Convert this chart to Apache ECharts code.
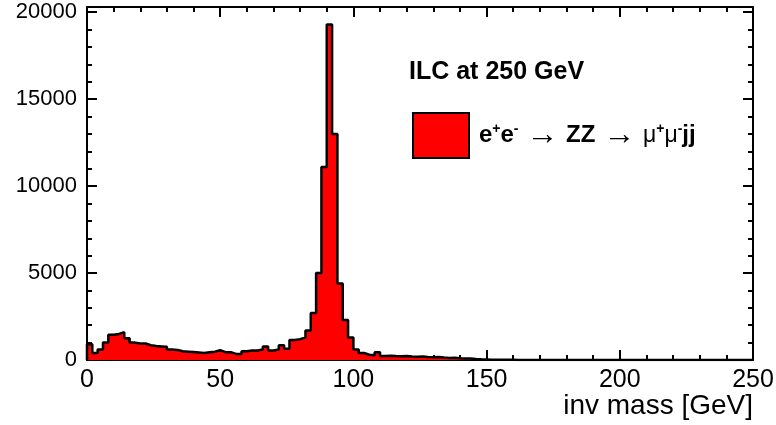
<!DOCTYPE html>
<html><head><meta charset="utf-8">
<script src="https://cdn.jsdelivr.net/npm/echarts@6/dist/echarts.min.js"></script>
<style>html,body{margin:0;padding:0;background:#fff}#c{width:776px;height:425px}</style>
</head><body><div id="c"></div>
<script>
// Histogram: 125 bins of 2 GeV from 0 to 250 GeV
const binLow = 0;
const binWidth = 2;
const counts = [
  900, 400, 600, 1000, 1450, 1500, 1600, 1250, 1000, 950,
  950, 850, 800, 780, 760, 600, 580, 500, 480, 460,
  430, 400, 450, 480, 560, 450, 450, 350, 350, 500,
  550, 550, 600, 770, 550, 600, 850, 650, 1150, 1200,
  1300, 1700, 2700, 5000, 11100, 19300, 13000, 4400, 2300, 1300,
  600, 400, 300, 280, 450, 230, 250, 230, 220, 230,
  200, 180, 200, 170, 160, 170, 140, 120, 130, 100,
  80, 90, 60, 40, 30, 20, 20, 10, 10, 10,
  0, 0, 0, 0, 0, 0, 0, 0, 0, 0,
  0, 0, 0, 0, 0, 0, 0, 0, 0, 0,
  0, 0, 0, 0, 0, 0, 0, 0, 0, 0,
  0, 0, 0, 0, 0, 0, 0, 0, 0, 0,
  0, 0, 0, 0, 0
];
const xTicks = [0, 50, 100, 150, 200, 250];
const yTicks = [0, 5000, 10000, 15000, 20000];
const seriesName = 'ZZ';
const titleText = 'ILC at 250 GeV';
const xTitle = 'inv mass [GeV]';

const stepData = [[binLow, 0]];
counts.forEach((c, i) => stepData.push([binLow + i * binWidth, c]));
const xEnd = binLow + counts.length * binWidth;
stepData.push([xEnd, counts[counts.length - 1]]);
stepData.push([xEnd, 0]);

const FONT = "'Liberation Sans', Arial, sans-serif";

const axisCommon = {
  axisLine: { show: true, onZero: false, lineStyle: { color: '#000', width: 2 } },
  axisTick: { show: true, inside: true, length: 10, lineStyle: { color: '#000', width: 2 } },
  minorTick: { show: true, splitNumber: 5, length: 5, lineStyle: { color: '#000', width: 2 } },
  splitLine: { show: false }
};

const chart = echarts.init(document.getElementById('c'), null, { renderer: 'canvas' });
chart.setOption({
  animation: false,
  backgroundColor: '#fff',
  grid: { left: 87, right: 23, top: 7, bottom: 65, containLabel: false, outerBoundsMode: 'none' },
  title: {
    text: titleText, left: 404, top: 55,
    textStyle: { fontFamily: FONT, fontWeight: 'bold', fontSize: 25, color: '#000' }
  },
  legend: {
    left: 407, top: 107, orient: 'vertical',
    itemWidth: 56, itemHeight: 45, itemGap: 10,
    selectedMode: false,
    data: [{ name: seriesName, icon: 'rect' }],
    itemStyle: { color: '#ff0000', borderColor: '#000', borderWidth: 2 },
    formatter: () => '{b|e}{s|+}{b|e}{s|-}{sp| }{n|\u2192}{sp| }{b|ZZ}{sp| }{n|\u2192}{sp| }{g|\u03bc}{s2|+}{g|\u03bc}{s2|-}{b|jj}',
    textStyle: {
      padding: [0, 0, 0, 5],
      rich: {
        b: { fontFamily: FONT, fontWeight: 'bold', fontSize: 24, color: '#000' },
        sp: { fontFamily: FONT, fontSize: 28, color: '#000' },
        n: { fontFamily: FONT, fontSize: 32, color: '#000' },
        g: { fontFamily: FONT, fontSize: 23, color: '#000' },
        s: { fontFamily: FONT, fontWeight: 'bold', fontSize: 14, color: '#000', padding: [0, 0, 13, 0] },
        s2: { fontFamily: FONT, fontWeight: 'bold', fontSize: 14, color: '#000', padding: [0, 0, 13, 0] }
      }
    }
  },
  xAxis: [
    Object.assign({}, axisCommon, {
      type: 'value', position: 'bottom', min: 0, max: 250, interval: 50,
      axisLabel: { show: true, margin: 8, fontFamily: FONT, fontSize: 25, color: '#000',
        formatter: v => (xTicks.includes(v) ? String(v) : '') },
      name: xTitle, nameLocation: 'end', nameGap: 0, nameMoveOverlap: false,
      nameTextStyle: { fontFamily: FONT, fontSize: 28, color: '#000', align: 'right', verticalAlign: 'top', padding: [32, 0, 0, 0] }
    }),
    Object.assign({}, axisCommon, {
      type: 'value', position: 'top', min: 0, max: 250, interval: 50,
      axisLabel: { show: false }
    })
  ],
  yAxis: [
    Object.assign({}, axisCommon, {
      type: 'value', position: 'left', min: 0, max: 20300, interval: 5000,
      axisLabel: { show: true, margin: 10, fontFamily: FONT, fontSize: 22, color: '#000',
        formatter: v => (yTicks.includes(v) ? String(v) : '') }
    }),
    Object.assign({}, axisCommon, {
      type: 'value', position: 'right', min: 0, max: 20300, interval: 5000,
      axisLabel: { show: false }
    })
  ],
  series: [{
    name: seriesName,
    type: 'line',
    step: 'end',
    data: stepData,
    showSymbol: false,
    symbol: 'none',
    itemStyle: { color: '#ff0000' },
    lineStyle: { color: '#000', width: 2.5 },
    areaStyle: { color: '#ff0000', opacity: 1 },
    z: 1
  }]
});
</script>
</body></html>
